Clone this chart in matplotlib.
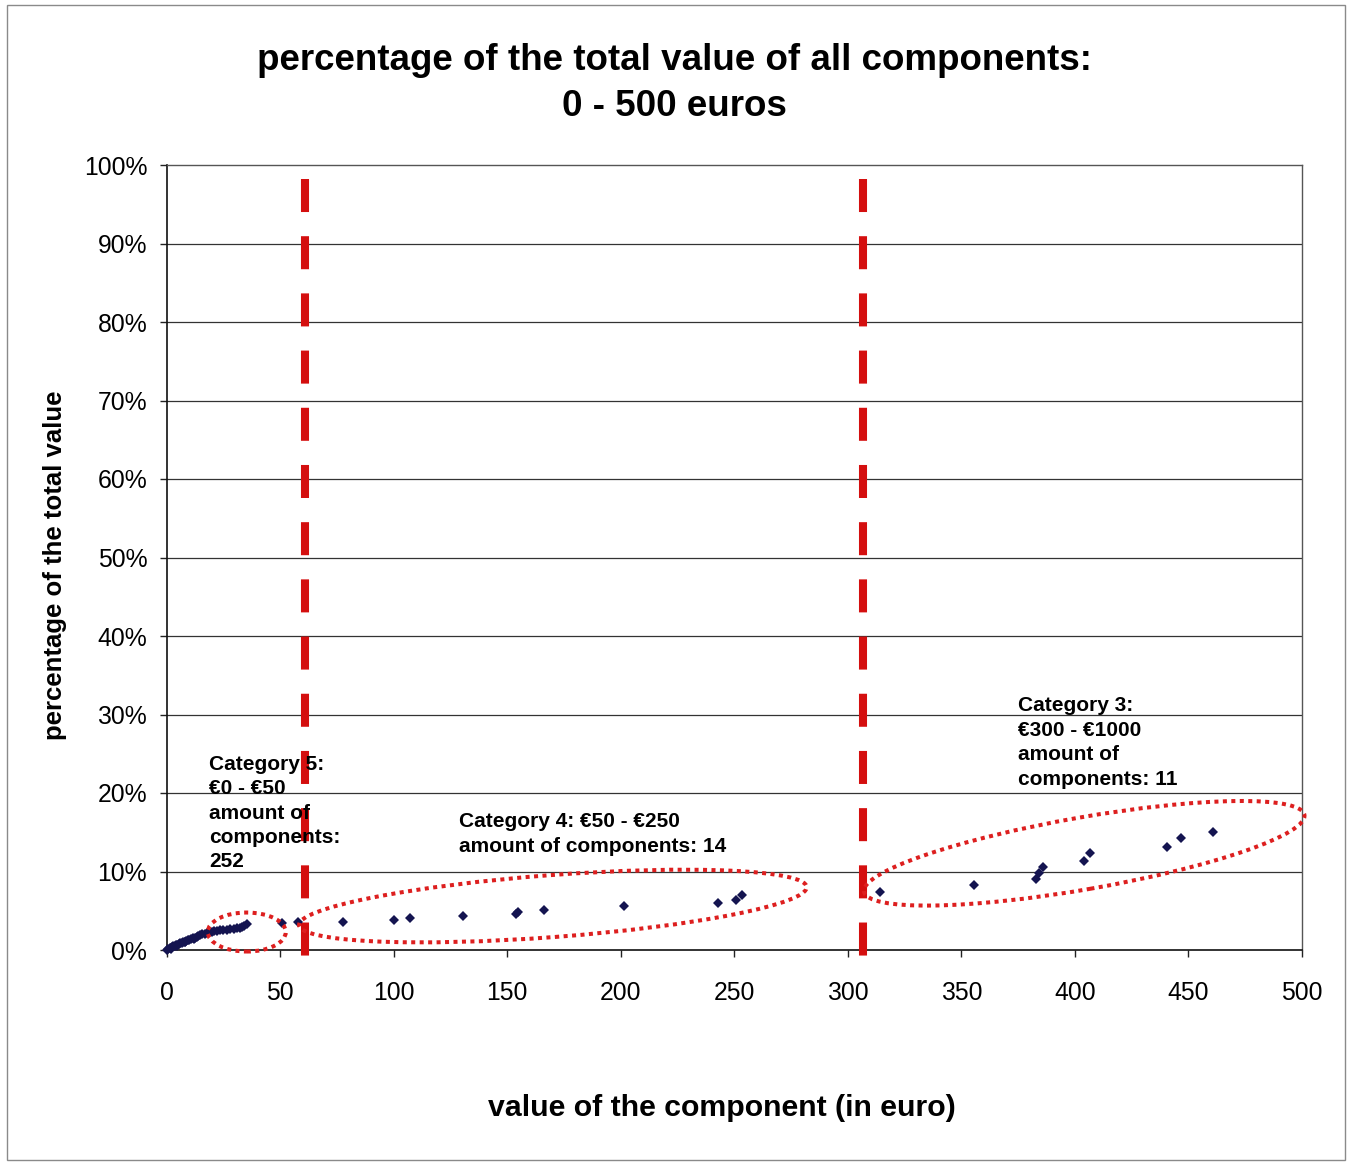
import matplotlib
matplotlib.use("Agg")
import matplotlib.pyplot as plt
from matplotlib.patches import Ellipse, Rectangle
from matplotlib.ticker import FuncFormatter
import matplotlib.transforms as mtransforms

plt.rcParams['font.family'] = ['Liberation Sans', 'DejaVu Sans']

# ---- data: component value (euro) vs. cumulative share of total value (%) ----
# category 5 (many cheap components, dense band near the origin)
cat5_x = [0.3, 0.8, 1.3, 1.8, 2.0, 2.4, 3.0, 3.5, 4.1, 4.5, 4.7, 5.3, 5.9, 6.6, 7.2,
          7.9, 8.0, 8.6, 9.3, 10.0, 10.8, 11.6, 12.0, 12.4, 13.2, 14.0, 14.9, 15.8,
          16.7, 17.7, 18.8, 19.9, 21.0, 22.2, 23.5, 24.9, 26.4, 28.0, 29.5, 31.0,
          32.5, 33.2, 34.0, 35.6]
cat5_y = [0.05, 0.12, 0.20, 0.28, 0.16, 0.35, 0.45, 0.52, 0.60, 0.47, 0.68, 0.76, 0.85,
          0.93, 1.00, 1.08, 0.96, 1.15, 1.22, 1.30, 1.38, 1.48, 1.36, 1.57, 1.66, 1.75,
          1.85, 1.98, 2.08, 2.16, 2.24, 2.32, 2.40, 2.46, 2.52, 2.56, 2.60, 2.66, 2.70,
          2.76, 2.85, 2.92, 3.05, 3.30]
# components just above 50 euro
mid_x = [51.0, 57.8]
mid_y = [3.40, 3.53]
# category 4
cat4_x = [77.6, 100.1, 107.1, 130.6, 153.7, 154.6, 166.2, 201.3, 243.0, 250.6, 253.2]
cat4_y = [3.57, 3.82, 4.04, 4.33, 4.59, 4.84, 5.10, 5.64, 5.95, 6.41, 6.97]
# category 3
cat3_x = [314.0, 355.6, 383.0, 384.0, 385.8, 404.2, 406.8, 440.4, 446.5, 460.7]
cat3_y = [7.43, 8.24, 9.00, 9.81, 10.57, 11.34, 12.36, 13.16, 14.23, 14.99]

# category boundaries drawn as dashed lines
boundaries = [60.8, 306.7]

x_ticks = [0, 50, 100, 150, 200, 250, 300, 350, 400, 450, 500]
y_ticks = [0, 10, 20, 30, 40, 50, 60, 70, 80, 90, 100]

title_lines = ["percentage of the total value of all components:", "0 - 500 euros"]
x_label = "value of the component (in euro)"
y_label = "percentage of the total value"

notes = [
    (18.6, 17.45, "Category 5:\n€0 - €50\namount of\ncomponents:\n252"),
    (128.8, 14.78, "Category 4: €50 - €250\namount of components: 14"),
    (374.8, 26.43, "Category 3:\n€300 - €1000\namount of\ncomponents: 11"),
]

# ellipses: centre (data), width/height (inches), rotation (deg)
rings = [
    (35.3, 2.29, 0.78, 0.39, 0.0),
    (170.1, 5.60, 5.09, 0.62, 4.3),
    (404.1, 12.32, 4.47, 0.72, 9.9),
]

# ---- figure ----
W, H = 1349, 1163
fig = plt.figure(figsize=(W / 100, H / 100), dpi=100)
ax = fig.add_axes([166.6 / W, 1 - 950 / H, (1302 - 166.6) / W, (950 - 165) / H])

ax.set_xlim(0, 500)
ax.set_ylim(0, 100)
ax.set_xticks(x_ticks)
ax.set_yticks(y_ticks)
ax.yaxis.set_major_formatter(FuncFormatter(lambda v, p: f"{int(v)}%"))
ax.tick_params(axis='both', direction='out', length=5, width=1, colors='#222222',
               labelsize=17.8, labelcolor='black')
ax.tick_params(axis='y', pad=9)
ax.tick_params(axis='x', pad=17)

for y in y_ticks[1:-1]:
    ax.axhline(y, color='#333333', lw=0.9, zorder=1)

for side in ['top', 'right']:
    ax.spines[side].set_color('#555555')
    ax.spines[side].set_linewidth(1.0)
for side in ['left', 'bottom']:
    ax.spines[side].set_color('#111111')
    ax.spines[side].set_linewidth(1.2)

# boundary lines
for bx in boundaries:
    ax.plot([bx, bx], [98.2, -0.9], color='#d40f0f', lw=5.8,
            linestyle=(0, (4.1, 3.0)), solid_capstyle='butt', dash_capstyle='butt',
            zorder=3, clip_on=False)

# data points
marker_kw = dict(linestyle='none', marker='D', ms=5.0, color='#141450',
                 markeredgewidth=0, zorder=4, clip_on=False)
ax.plot(cat5_x, cat5_y, **marker_kw)
ax.plot(mid_x, mid_y, **marker_kw)
ax.plot(cat4_x, cat4_y, **marker_kw)
ax.plot(cat3_x, cat3_y, **marker_kw)

# dotted ellipses around each category
for cx, cy, w, h, ang in rings:
    tr = fig.dpi_scale_trans + mtransforms.ScaledTranslation(cx, cy, ax.transData)
    e = Ellipse((0, 0), w, h, angle=ang, transform=tr, fill=False,
                edgecolor='#dd1f1f', lw=2.9, linestyle=(0, (1.0, 1.1)),
                zorder=5, clip_on=False)
    ax.add_artist(e)

# category notes
for nx, ny, txt in notes:
    ax.text(nx, ny, txt, ha='left', va='center', fontsize=15, fontweight='bold',
            linespacing=1.36, zorder=6)

# titles and axis labels
fig.text(0.5, 1 - 61 / H, title_lines[0], ha='center', va='center',
         fontsize=26.5, fontweight='bold')
fig.text(0.5, 1 - 106 / H, title_lines[1], ha='center', va='center',
         fontsize=26.5, fontweight='bold')
fig.text(722 / W, 1 - 1108 / H, x_label, ha='center', va='center',
         fontsize=21.8, fontweight='bold')
fig.text(55 / W, 1 - 565 / H, y_label, ha='center', va='center', rotation=90,
         fontsize=18.5, fontweight='bold')

# outer chart frame
fig.patches.append(Rectangle((7 / W, 1 - 1160 / H), (1345 - 7) / W, (1160 - 5) / H,
                             transform=fig.transFigure, fill=False,
                             edgecolor='#8a8a8a', lw=1.0))

fig.savefig("out.png", dpi=100, facecolor='white')
